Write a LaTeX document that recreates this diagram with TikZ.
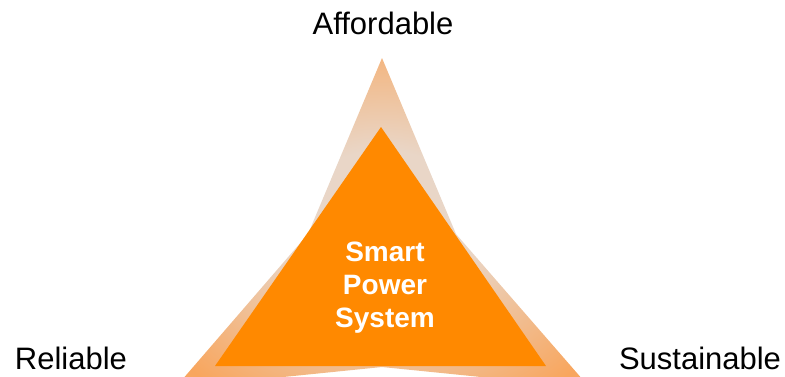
\documentclass[tikz,border=0pt]{standalone}
\usepackage{fontspec}
\setmainfont{Liberation Sans}
\definecolor{pale}{RGB}{233,214,199}
\definecolor{peach}{RGB}{248,166,94}
\definecolor{peachlow}{RGB}{249,181,122}
\definecolor{smartorange}{RGB}{255,137,0}
\pgfdeclareradialshading{glow}{\pgfpoint{0bp}{0bp}}{color(0bp)=(pale); color(11bp)=(pale); color(32bp)=(peach); color(50bp)=(peachlow)}

\begin{document}
\begin{tikzpicture}[x=1pt, y=-1pt,
  goal/.style={font=\fontsize{31}{36}\selectfont, anchor=base, inner sep=0pt},
  core/.style={font=\bfseries\fontsize{28}{33}\selectfont, text=white, align=center, inner sep=0pt}]

  \useasboundingbox (0,0) rectangle (785,376);

  %% outer star
  \coordinate (top) at (382,58);
  \coordinate (rv)  at (456,234);
  \coordinate (rc)  at (590,388);
  \coordinate (bv)  at (382,367);
  \coordinate (lc)  at (175,388);
  \coordinate (lv)  at (308,234);
  \shade[shading=glow] (top) -- (rv) -- (rc) -- (bv) -- (lc) -- (lv) -- cycle;

  %% inner triangle
  \coordinate (itop) at (381,127);
  \coordinate (iright) at (546,366);
  \coordinate (ileft) at (215,366);
  \fill[smartorange] (itop) -- (iright) -- (ileft) -- cycle;

  \node[core] (sps) at (385,288) {Smart\\Power\\System};

  \node[goal] (afford) at (383,34) {Affordable};
  \node[goal] (reli) at (71,369) {Reliable};
  \node[goal] (sust) at (700,369) {Sustainable};
\end{tikzpicture}
\end{document}
